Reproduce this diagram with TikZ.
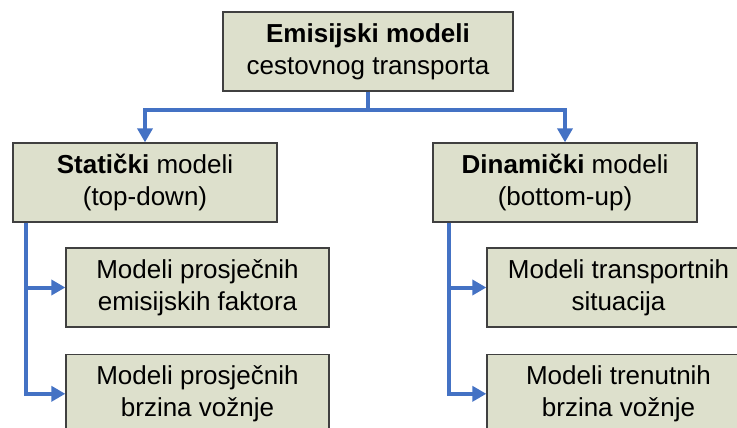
\documentclass[tikz,border=0pt]{standalone}
\usepackage{fontspec}
\setmainfont{Liberation Sans}
\usetikzlibrary{positioning, arrows.meta}
\definecolor{boxfill}{RGB}{221,224,204}
\definecolor{boxline}{RGB}{64,64,64}
\definecolor{connblue}{RGB}{68,114,196}
\tikzstyle{modelbox} = [rectangle, minimum height=79pt, text centered, align=center, draw=boxline, line width=1.3pt, fill=boxfill, inner sep=0pt, font=\fontsize{26}{32}\selectfont]
\tikzstyle{topbox} = [modelbox, minimum width=290pt]
\tikzstyle{midbox} = [modelbox, minimum width=264pt]
\tikzstyle{subbox} = [modelbox, minimum width=263pt]
\tikzstyle{conn} = [connblue, line width=4pt, -{Triangle[length=14pt,width=15pt]}]

\begin{document}
\begin{tikzpicture}[x=1pt, y=-1pt]
        \useasboundingbox (0,0) rectangle (737,428);
        \clip (0,0) rectangle (737,428);

        \node (root) [topbox] at (368,51.5) {\textbf{Emisijski modeli}\\cestovnog transporta};
        \node (static) [midbox] at (145,182.5) {\textbf{Statički} modeli\\(top-down)};
        \node (dynamic) [midbox] at (565,182.5) {\textbf{Dinamički} modeli\\(bottom-up)};
        \node (avgfactor) [subbox] at (197.5,287.5) {Modeli prosječnih\\emisijskih faktora};
        \node (avgspeed) [subbox, below=26pt of avgfactor] {Modeli prosječnih\\brzina vožnje};
        \node (situation) [subbox] at (618.5,287.5) {Modeli transportnih\\situacija};
        \node (instspeed) [subbox, below=26pt of situation] {Modeli trenutnih\\brzina vožnje};

        \coordinate (split) at (368,110);

        % Arrows
        \draw [conn] (root.south) -- (split) -| (static.north);
        \draw [conn] (root.south) -- (split) -| (dynamic.north);
        \draw [conn] ([xshift=14pt]static.south west) |- (avgfactor.west);
        \draw [conn] ([xshift=14pt]static.south west) |- (avgspeed.west);
        \draw [conn] ([xshift=17pt]dynamic.south west) |- (situation.west);
        \draw [conn] ([xshift=17pt]dynamic.south west) |- (instspeed.west);

\end{tikzpicture}
\end{document}
